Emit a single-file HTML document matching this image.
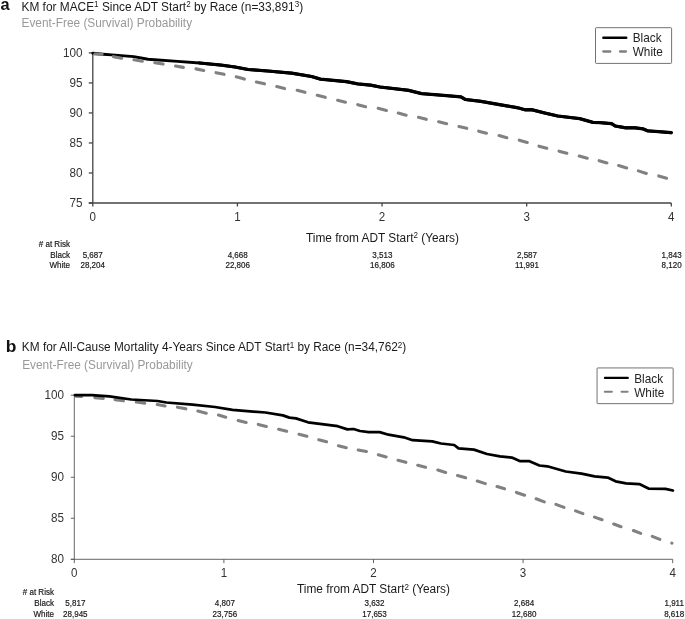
<!DOCTYPE html>
<html><head><meta charset="utf-8"><title>KM curves</title>
<style>html,body{margin:0;padding:0;background:#fff;}body{width:685px;height:619px;overflow:hidden;}svg{display:block;will-change:transform;font-family:"Liberation Sans",sans-serif;}</style></head><body>
<svg width="685" height="619" viewBox="0 0 685 619">
<rect width="685" height="619" fill="#fff"/>
<text transform="translate(0.4,10.45) scale(1,1.04)" font-size="16.4" font-weight="bold" fill="#111">a</text>
<text transform="translate(21.5,10.7) scale(1,1.09)" font-size="11.8" fill="#1a1a1a" textLength="281.6" lengthAdjust="spacingAndGlyphs">KM for MACE<tspan font-size="8.0" dy="-3.3">1</tspan><tspan dy="3.3"> Since ADT Start</tspan><tspan font-size="8.0" dy="-3.3">2</tspan><tspan dy="3.3"> by Race (n=33,891</tspan><tspan font-size="8.0" dy="-3.3">3</tspan><tspan dy="3.3">)</tspan></text>
<text transform="translate(21.5,27.3) scale(1,1.09)" font-size="11.8" fill="#999" textLength="170.6" lengthAdjust="spacingAndGlyphs">Event-Free (Survival) Probability</text>
<g stroke="#444" stroke-width="1.3" fill="none">
<path d="M92.8,52.9 V206.5"/>
<path d="M88.8,203.0 H671.3"/>
<path d="M88.8,52.90 H92.8"/>
<path d="M88.8,82.92 H92.8"/>
<path d="M88.8,112.94 H92.8"/>
<path d="M88.8,142.96 H92.8"/>
<path d="M88.8,172.98 H92.8"/>
<path d="M88.8,203.00 H92.8"/>
<path d="M237.43,203.0 v3.5"/>
<path d="M382.05,203.0 v3.5"/>
<path d="M526.67,203.0 v3.5"/>
<path d="M671.30,203.0 v3.5"/>
</g>
<text transform="translate(82.40,56.95) scale(1,1.08)" font-size="11.7" text-anchor="end" fill="#333">100</text>
<text transform="translate(82.40,86.92) scale(1,1.08)" font-size="11.7" text-anchor="end" fill="#333">95</text>
<text transform="translate(82.40,116.89) scale(1,1.08)" font-size="11.7" text-anchor="end" fill="#333">90</text>
<text transform="translate(82.40,146.86) scale(1,1.08)" font-size="11.7" text-anchor="end" fill="#333">85</text>
<text transform="translate(82.40,176.83) scale(1,1.08)" font-size="11.7" text-anchor="end" fill="#333">80</text>
<text transform="translate(82.40,206.80) scale(1,1.08)" font-size="11.7" text-anchor="end" fill="#333">75</text>
<text transform="translate(92.80,221.10) scale(1,1.08)" font-size="11.6" text-anchor="middle" fill="#333">0</text>
<text transform="translate(237.43,221.10) scale(1,1.08)" font-size="11.6" text-anchor="middle" fill="#333">1</text>
<text transform="translate(382.05,221.10) scale(1,1.08)" font-size="11.6" text-anchor="middle" fill="#333">2</text>
<text transform="translate(526.67,221.10) scale(1,1.08)" font-size="11.6" text-anchor="middle" fill="#333">3</text>
<text transform="translate(671.30,221.10) scale(1,1.08)" font-size="11.6" text-anchor="middle" fill="#333">4</text>
<text transform="translate(306,241.7) scale(1,1.09)" font-size="11.8" fill="#1a1a1a" textLength="153" lengthAdjust="spacingAndGlyphs">Time from ADT Start<tspan font-size="8.0" dy="-3.3">2</tspan><tspan dy="3.3"> (Years)</tspan></text>
<path d="M92.9,53.3 L103.0,54.2 L111.9,54.9 L133.8,56.6 L148.0,59.3 L177.6,61.4 L199.5,63.0 L221.4,65.1 L235.0,67.0 L248.1,69.5 L267.8,71.0 L291.9,73.2 L311.6,76.5 L320.4,79.1 L346.7,81.7 L357.6,83.9 L370.8,85.2 L380.0,87.0 L408.5,90.3 L421.6,93.6 L443.5,95.4 L461.0,96.9 L465.4,99.5 L480.7,101.3 L502.6,105.2 L518.0,107.8 L525.0,109.8 L531.6,109.7 L544.7,113.0 L557.8,116.0 L579.7,118.6 L592.9,122.4 L600.0,122.6 L611.7,123.7 L615.2,126.0 L625.7,127.8 L635.0,127.8 L643.2,128.9 L647.9,130.9 L658.4,131.6 L671.3,132.7" stroke="#000" stroke-width="2.95" fill="none" stroke-linejoin="round" stroke-linecap="round"/>
<path d="M199.5,63.0 L221.4,65.1 L235.0,67.0 L248.1,69.5 L267.8,71.0 L291.9,73.2 L311.6,76.5 L320.4,79.1 L346.7,81.7 L357.6,83.9 L370.8,85.2 L380.0,87.0 L408.5,90.3 L421.6,93.6 L443.5,95.4 L461.0,96.9 L465.4,99.5 L480.7,101.3 L502.6,105.2 L518.0,107.8 L525.0,109.8 L531.6,109.7 L544.7,113.0 L557.8,116.0 L579.7,118.6 L592.9,122.4 L600.0,122.6 L611.7,123.7 L615.2,126.0 L625.7,127.8 L635.0,127.8 L643.2,128.9 L647.9,130.9 L658.4,131.6 L671.3,132.7" stroke="#000" stroke-width="3.25" fill="none" stroke-linejoin="round" stroke-linecap="round"/>
<path d="M113.48,56.65 L121.62,58.25 M133.98,59.72 L142.32,61.18 M154.78,62.71 L163.12,64.09 M175.58,66.02 L183.32,67.38 M195.97,68.87 L203.73,70.53 M216.07,72.67 L224.03,74.33 M236.25,76.84 L244.35,79.06 M256.37,81.99 L264.43,83.81 M276.76,86.62 L284.54,88.58 M297.16,90.33 L304.94,92.37 M317.26,95.23 L325.24,97.37 M337.66,100.22 L345.44,102.18 M357.75,104.64 L365.55,106.76 M378.16,108.32 L386.44,110.38 M398.26,113.04 L406.14,115.16 M418.46,117.33 L426.24,119.37 M438.66,121.71 L446.64,123.69 M458.97,126.50 L466.73,128.30 M478.66,131.13 L486.44,133.17 M499.05,135.55 L506.85,137.75 M519.25,140.17 L527.25,142.53 M538.95,146.14 L546.75,148.26 M559.05,151.15 L566.85,153.35 M579.26,156.03 L587.24,158.17 M599.15,160.66 L606.95,162.94 M618.64,165.49 L626.66,168.01 M638.34,170.89 L646.36,173.41 M658.75,175.96 L666.55,178.24" stroke="#818181" stroke-width="3.1" fill="none" stroke-linecap="round"/>
<path d="M94.3,53.95 L102.2,54.2" stroke="#808080" stroke-width="3.0" fill="none" stroke-linecap="round"/>
<circle cx="92.9" cy="53.0" r="1.0" fill="#000"/>
<rect x="595.5" y="27.7" width="76.1" height="35.7" rx="0.8" fill="#fff" stroke="#5a5a5a" stroke-width="0.85"/>
<path d="M603.4,37.7 h22.8" stroke="#000" stroke-width="2.5" stroke-linecap="round"/>
<path d="M603.3,51.5 h7 M620.0,51.5 h6" stroke="#808080" stroke-width="2.3" stroke-linecap="round"/>
<text transform="translate(632.70,42.45) scale(1,1.08)" font-size="11.8" text-anchor="start" fill="#222">Black</text>
<text transform="translate(632.70,56.35) scale(1,1.08)" font-size="11.8" text-anchor="start" fill="#222">White</text>
<g font-size="8.05" fill="#1a1a1a" stroke="#1a1a1a" stroke-width="0.18">
<text transform="translate(70,246.8) scale(1,1.12)" text-anchor="end"># at Risk</text>
<text transform="translate(70,257.5) scale(1,1.12)" text-anchor="end">Black</text>
<text transform="translate(70,268.4) scale(1,1.12)" text-anchor="end">White</text>
<text transform="translate(92.7,257.5) scale(1,1.12)" text-anchor="middle">5,687</text>
<text transform="translate(92.7,268.4) scale(1,1.12)" text-anchor="middle">28,204</text>
<text transform="translate(237.7,257.5) scale(1,1.12)" text-anchor="middle">4,668</text>
<text transform="translate(237.7,268.4) scale(1,1.12)" text-anchor="middle">22,806</text>
<text transform="translate(382.4,257.5) scale(1,1.12)" text-anchor="middle">3,513</text>
<text transform="translate(382.4,268.4) scale(1,1.12)" text-anchor="middle">16,806</text>
<text transform="translate(527.0,257.5) scale(1,1.12)" text-anchor="middle">2,587</text>
<text transform="translate(527.0,268.4) scale(1,1.12)" text-anchor="middle">11,991</text>
<text transform="translate(671.6,257.5) scale(1,1.12)" text-anchor="middle">1,843</text>
<text transform="translate(671.6,268.4) scale(1,1.12)" text-anchor="middle">8,120</text>
</g>
<text transform="translate(5.7,351.75) scale(1.09,0.99)" font-size="16" font-weight="bold" fill="#111">b</text>
<text transform="translate(21.85,351.1) scale(1,1.09)" font-size="11.8" fill="#1a1a1a" textLength="384.4" lengthAdjust="spacingAndGlyphs">KM for All-Cause Mortality 4-Years Since ADT Start<tspan font-size="8.0" dy="-3.3">1</tspan><tspan dy="3.3"> by Race (n=34,762</tspan><tspan font-size="8.0" dy="-3.3">2</tspan><tspan dy="3.3">)</tspan></text>
<text transform="translate(22.2,369.1) scale(1,1.09)" font-size="11.8" fill="#999" textLength="170.6" lengthAdjust="spacingAndGlyphs">Event-Free (Survival) Probability</text>
<g stroke="#555" stroke-width="0.9" fill="none">
<path d="M74.3,395.2 V563.0999999999999"/>
<path d="M70.8,559.3 H672.7"/>
<path d="M70.8,395.20 H74.3"/>
<path d="M70.8,436.23 H74.3"/>
<path d="M70.8,477.26 H74.3"/>
<path d="M70.8,518.29 H74.3"/>
<path d="M70.8,559.32 H74.3"/>
<path d="M223.90,559.3 v3.8"/>
<path d="M373.50,559.3 v3.8"/>
<path d="M523.10,559.3 v3.8"/>
<path d="M672.70,559.3 v3.8"/>
</g>
<text transform="translate(64.00,398.80) scale(1,1.08)" font-size="11.7" text-anchor="end" fill="#333">100</text>
<text transform="translate(64.00,439.83) scale(1,1.08)" font-size="11.7" text-anchor="end" fill="#333">95</text>
<text transform="translate(64.00,480.86) scale(1,1.08)" font-size="11.7" text-anchor="end" fill="#333">90</text>
<text transform="translate(64.00,521.89) scale(1,1.08)" font-size="11.7" text-anchor="end" fill="#333">85</text>
<text transform="translate(64.00,562.92) scale(1,1.08)" font-size="11.7" text-anchor="end" fill="#333">80</text>
<text transform="translate(74.30,576.90) scale(1,1.08)" font-size="11.6" text-anchor="middle" fill="#333">0</text>
<text transform="translate(223.90,576.90) scale(1,1.08)" font-size="11.6" text-anchor="middle" fill="#333">1</text>
<text transform="translate(373.50,576.90) scale(1,1.08)" font-size="11.6" text-anchor="middle" fill="#333">2</text>
<text transform="translate(523.10,576.90) scale(1,1.08)" font-size="11.6" text-anchor="middle" fill="#333">3</text>
<text transform="translate(672.70,576.90) scale(1,1.08)" font-size="11.6" text-anchor="middle" fill="#333">4</text>
<text transform="translate(297,593.2) scale(1,1.09)" font-size="11.8" fill="#1a1a1a" textLength="153" lengthAdjust="spacingAndGlyphs">Time from ADT Start<tspan font-size="8.0" dy="-3.3">2</tspan><tspan dy="3.3"> (Years)</tspan></text>
<path d="M75.70,396.26 L81.70,396.54 M94.89,397.63 L103.31,398.47 M115.09,399.68 L123.41,400.82 M136.29,402.08 L144.71,403.22 M157.28,404.54 L165.02,405.96 M177.47,407.16 L185.83,408.84 M197.86,411.11 L206.24,413.19 M218.45,415.07 L225.75,417.23 M238.16,420.51 L246.14,422.49 M258.26,424.42 L266.34,426.48 M278.66,429.22 L286.64,431.28 M299.06,434.32 L306.84,436.28 M318.76,439.73 L326.54,441.77 M338.46,445.72 L346.24,447.68 M358.18,449.95 L366.42,451.55 M378.35,454.75 L386.15,456.95 M398.05,460.24 L405.85,462.36 M417.76,465.23 L425.54,467.27 M437.84,470.07 L445.66,472.43 M457.55,475.54 L465.65,477.76 M477.24,481.09 L485.36,483.61 M497.05,486.57 L504.55,488.83 M516.43,492.43 L524.57,495.27 M536.12,498.76 L544.28,501.84 M555.92,504.35 L563.98,507.35 M575.61,510.86 L582.89,513.64 M594.53,517.12 L602.07,519.68 M613.72,524.05 L620.98,526.75 M633.41,530.56 L640.69,533.34 M652.31,536.38 L659.89,539.42 M671.80,543.13 L671.90,543.17" stroke="#818181" stroke-width="3.1" fill="none" stroke-linecap="round"/>
<path d="M74.9,395.1 L91.9,395.1 L109.4,396.4 L131.3,399.5 L157.6,401.0 L166.3,402.5 L192.6,404.7 L215.0,407.0 L232.5,409.9 L265.4,412.5 L282.9,415.4 L289.4,417.6 L296.0,418.4 L308.0,422.3 L337.7,426.2 L347.4,429.4 L353.5,429.0 L360.0,431.0 L368.8,432.1 L379.7,432.1 L388.5,434.7 L403.8,437.3 L412.6,440.2 L432.3,441.3 L441.0,443.5 L454.2,445.0 L458.5,448.3 L473.9,449.6 L487.0,454.0 L500.0,456.4 L511.8,457.6 L519.7,461.0 L528.9,461.0 L539.4,465.5 L547.3,466.3 L565.7,471.5 L581.5,473.6 L594.6,476.3 L607.7,477.6 L615.6,481.3 L626.1,483.4 L639.3,484.1 L648.5,488.6 L665.5,488.9 L672.9,490.5" stroke="#000" stroke-width="2.75" fill="none" stroke-linejoin="round" stroke-linecap="round"/>
<rect x="597.05" y="367.95" width="76.1" height="35.7" rx="0.8" fill="#fff" stroke="#5a5a5a" stroke-width="0.85"/>
<path d="M604.9499999999999,377.95 h22.8" stroke="#000" stroke-width="2.3" stroke-linecap="round"/>
<path d="M604.8499999999999,391.75 h7 M621.55,391.75 h6" stroke="#808080" stroke-width="2.15" stroke-linecap="round"/>
<text transform="translate(634.25,382.70) scale(1,1.08)" font-size="11.8" text-anchor="start" fill="#222">Black</text>
<text transform="translate(634.25,396.60) scale(1,1.08)" font-size="11.8" text-anchor="start" fill="#222">White</text>
<g font-size="8.05" fill="#1a1a1a" stroke="#1a1a1a" stroke-width="0.18">
<text transform="translate(54,594.7) scale(1,1.12)" text-anchor="end"># at Risk</text>
<text transform="translate(54,606.1) scale(1,1.12)" text-anchor="end">Black</text>
<text transform="translate(54,616.7) scale(1,1.12)" text-anchor="end">White</text>
<text transform="translate(75.3,606.1) scale(1,1.12)" text-anchor="middle">5,817</text>
<text transform="translate(75.3,616.7) scale(1,1.12)" text-anchor="middle">28,945</text>
<text transform="translate(224.9,606.1) scale(1,1.12)" text-anchor="middle">4,807</text>
<text transform="translate(224.9,616.7) scale(1,1.12)" text-anchor="middle">23,756</text>
<text transform="translate(374.5,606.1) scale(1,1.12)" text-anchor="middle">3,632</text>
<text transform="translate(374.5,616.7) scale(1,1.12)" text-anchor="middle">17,653</text>
<text transform="translate(524.1,606.1) scale(1,1.12)" text-anchor="middle">2,684</text>
<text transform="translate(524.1,616.7) scale(1,1.12)" text-anchor="middle">12,680</text>
<text transform="translate(674.2,606.1) scale(1,1.12)" text-anchor="middle">1,911</text>
<text transform="translate(674.2,616.7) scale(1,1.12)" text-anchor="middle">8,618</text>
</g>
</svg></body></html>
